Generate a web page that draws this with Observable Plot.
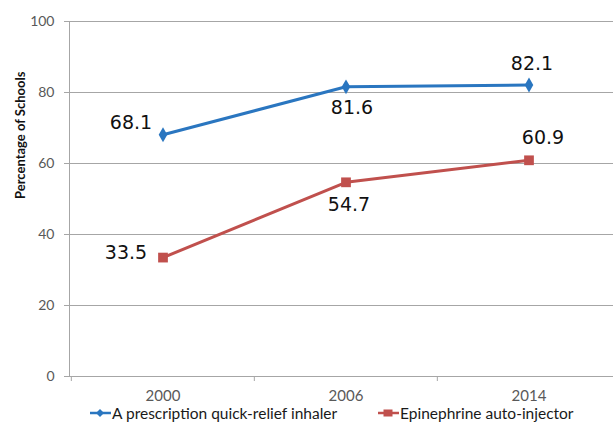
<!DOCTYPE html>
<html><head><meta charset="utf-8">
<script src="https://cdn.jsdelivr.net/npm/d3@7"></script>
<script src="https://cdn.jsdelivr.net/npm/@observablehq/plot@0.6"></script>
<style>
body{margin:0;background:#fff;font-family:Lato,sans-serif}
#legend{position:relative;height:18px;font-family:Lato,sans-serif;font-size:15.5px;color:#1a1a1a}
.item{position:absolute;top:0px;display:flex;align-items:center;white-space:nowrap}
.item svg{margin-right:1px}
</style>
</head><body><div id="chart"></div><div id="legend"></div>
<script>
const years = ["2000", "2006", "2014"];
const inhaler = [68.1, 81.6, 82.1];
const epinephrine = [33.5, 54.7, 60.9];
const seriesNames = ["A prescription quick-relief inhaler", "Epinephrine auto-injector"];
const yTicks = [0, 20, 40, 60, 80, 100];
const yTitle = "Percentage of Schools";
const colors = ["#2a76c0", "#c0504d"];

const rows = [
  ...years.map((y, i) => ({year: y, value: inhaler[i], series: seriesNames[0], i})),
  ...years.map((y, i) => ({year: y, value: epinephrine[i], series: seriesNames[1], i}))
];
const A = rows.filter(d => d.series === seriesNames[0]);
const B = rows.filter(d => d.series === seriesNames[1]);

const xRange = [70, 620];
const bw = (xRange[1] - xRange[0]) / years.length;
const labelFont = {fontFamily: "DejaVu Sans", fontSize: 19, fill: "#111"};
const lab = (data, i, dx, dy) => Plot.text(data.filter(d => d.i === i), {x: "year", y: "value", text: d => d.value.toFixed(1), dx, dy, ...labelFont});

const chart = Plot.plot({
  width: 613,
  height: 404,
  marginLeft: 69,
  marginRight: 0,
  marginTop: 21,
  marginBottom: 28,
  style: {fontFamily: "Lato, sans-serif", fontSize: "14px", background: "#fff"},
  x: {type: "band", domain: years, range: xRange, padding: 0, axis: null},
  y: {domain: [0, 100], axis: null},
  marks: [
    Plot.ruleY(yTicks, {stroke: "#a6a6a6", strokeWidth: 1}),
    Plot.frame({anchor: "left", stroke: "#a6a6a6"}),
    Plot.ruleX(years, {x: d => d, dx: -bw / 2, y1: 0, y2: 0, insetBottom: -5, stroke: "#a6a6a6"}),
    Plot.axisY({ticks: yTicks, tickSize: 5, tickPadding: 10, stroke: "#a6a6a6", fill: "#595959", fontSize: 14, label: null}),
    Plot.axisX({tickSize: 0, tickPadding: 14, fill: "#595959", fontSize: 15, label: null}),
    Plot.text([yTitle], {frameAnchor: "left", rotate: -90, dx: -49, fontWeight: "bold", fontSize: 13, fill: "#111"}),
    Plot.line(A, {x: "year", y: "value", stroke: colors[0], strokeWidth: 3}),
    Plot.line(B, {x: "year", y: "value", stroke: colors[1], strokeWidth: 3}),
    Plot.dot(A, {x: "year", y: "value", symbol: "diamond", r: 4.5, fill: colors[0], stroke: null}),
    Plot.dot(B, {x: "year", y: "value", symbol: "square", r: 5.5, fill: colors[1], stroke: null}),
    lab(A, 0, -32, -12), lab(A, 1, 6, 21), lab(A, 2, 3, -21),
    lab(B, 0, -37, -5), lab(B, 1, 3, 23), lab(B, 2, 14, -22)
  ]
});
document.getElementById("chart").appendChild(chart);

const legend = document.getElementById("legend");
const lefts = [90, 378];
const syms = [
  c => `<polygon points="10,2 14,6 10,10 6,6" fill="${c}"/>`,
  c => `<rect x="5.5" y="2.5" width="9" height="7" fill="${c}"/>`
];
seriesNames.forEach((name, k) => {
  const div = document.createElement("div");
  div.className = "item";
  div.style.left = lefts[k] + "px";
  div.innerHTML = `<svg width="21" height="12"><line x1="0" x2="21" y1="6" y2="6" stroke="${colors[k]}" stroke-width="2.5"/>${syms[k](colors[k])}</svg><span>${name}</span>`;
  legend.appendChild(div);
});
</script>
</body></html>
